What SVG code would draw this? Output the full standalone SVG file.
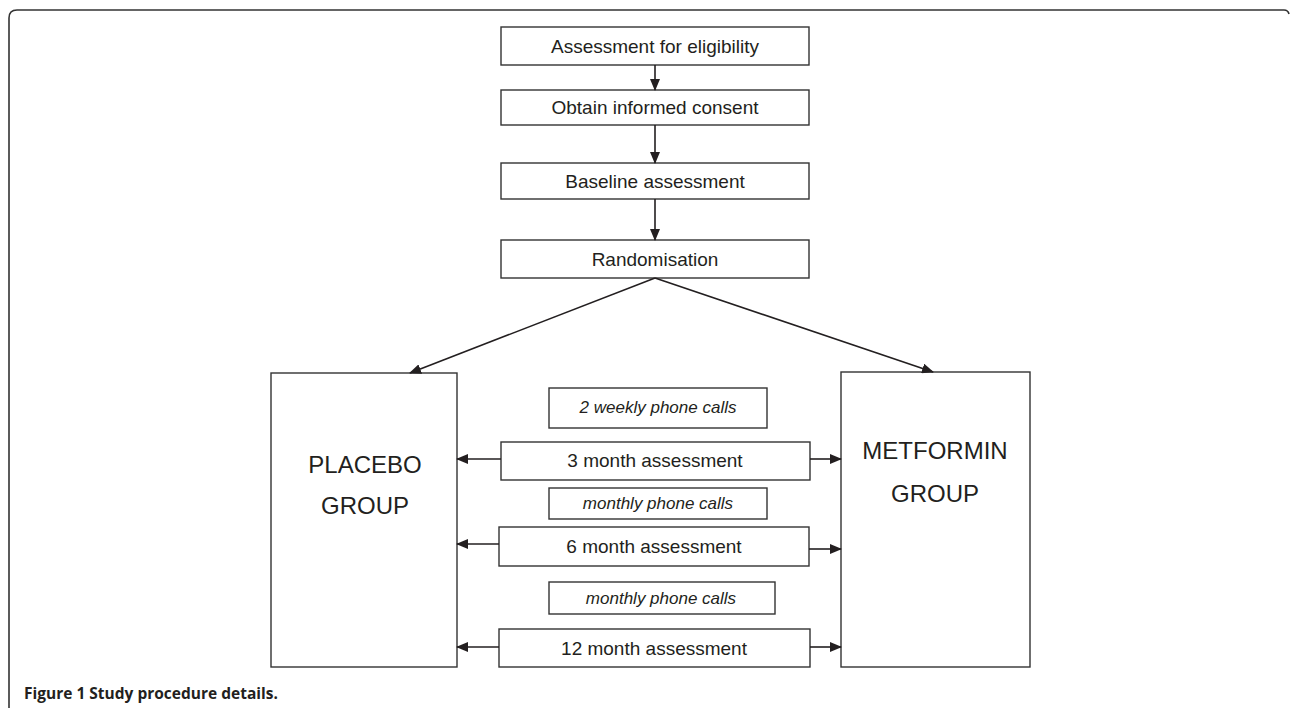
<svg xmlns="http://www.w3.org/2000/svg" width="1290" height="708" viewBox="0 0 1290 708">
<defs>
<style>
.box{fill:#fff;stroke:#333;stroke-width:1.4}
.t{font-family:"Liberation Sans",Arial,sans-serif;font-size:19px;fill:#231f20;text-anchor:middle}
.ti{font-family:"Liberation Sans",Arial,sans-serif;font-size:17px;font-style:italic;fill:#231f20;text-anchor:middle}
.tg{font-family:"Liberation Sans",Arial,sans-serif;font-size:24px;fill:#231f20;text-anchor:middle}
.c{stroke:#231f20;stroke-width:1.6;fill:none}
.cap{font-family:"Open Sans","Liberation Sans",sans-serif;font-size:15.5px;font-weight:bold;fill:#231f20}
</style>
<marker id="ah" markerUnits="userSpaceOnUse" markerWidth="12" markerHeight="10" refX="11" refY="5" orient="auto">
<path d="M0,0 L12,5 L0,10 z" fill="#231f20"/>
</marker>
</defs>
<rect width="1290" height="708" fill="#fff"/>
<path d="M9,708 V18 Q9,10 17,10 H1284 Q1288,10 1289,14" fill="none" stroke="#333" stroke-width="1.6"/>

<g id="eligibility"><rect class="box" x="501" y="27" width="308" height="38"/><text class="t" x="655" y="53">Assessment for eligibility</text></g>
<g id="consent"><rect class="box" x="501" y="90" width="308" height="35"/><text class="t" x="655" y="114">Obtain informed consent</text></g>
<g id="baseline"><rect class="box" x="501" y="163" width="308" height="36"/><text class="t" x="655" y="188">Baseline assessment</text></g>
<g id="randomisation"><rect class="box" x="501" y="240" width="308" height="38"/><text class="t" x="655" y="266">Randomisation</text></g>

<g id="placebo"><rect class="box" x="271" y="373" width="186" height="294"/><text class="tg" x="365" y="473">PLACEBO</text><text class="tg" x="365" y="514">GROUP</text></g>
<g id="metformin"><rect class="box" x="841" y="372" width="189" height="295"/><text class="tg" x="935" y="459">METFORMIN</text><text class="tg" x="935" y="502">GROUP</text></g>

<g id="calls2w"><rect class="box" x="549" y="388" width="218" height="40"/><text class="ti" x="658" y="413">2 weekly phone calls</text></g>
<g id="m3"><rect class="box" x="501" y="442" width="309" height="38"/><text class="t" x="655" y="467">3 month assessment</text></g>
<g id="callsm1"><rect class="box" x="549" y="488" width="218" height="31"/><text class="ti" x="658" y="509">monthly phone calls</text></g>
<g id="m6"><rect class="box" x="499" y="527" width="310" height="39"/><text class="t" x="654" y="553">6 month assessment</text></g>
<g id="callsm2"><rect class="box" x="549" y="582" width="226" height="32"/><text class="ti" x="661" y="604">monthly phone calls</text></g>
<g id="m12"><rect class="box" x="499" y="629" width="311" height="38"/><text class="t" x="654" y="655">12 month assessment</text></g>

<g id="connectors">
<line class="c" x1="655" y1="65" x2="655" y2="90" marker-end="url(#ah)"/>
<line class="c" x1="655" y1="125" x2="655" y2="163" marker-end="url(#ah)"/>
<line class="c" x1="655" y1="199" x2="655" y2="240" marker-end="url(#ah)"/>
<line class="c" x1="655" y1="278" x2="410" y2="373" marker-end="url(#ah)"/>
<line class="c" x1="655" y1="278" x2="933" y2="372" marker-end="url(#ah)"/>
<line class="c" x1="501" y1="459" x2="457" y2="459" marker-end="url(#ah)"/>
<line class="c" x1="810" y1="459" x2="841" y2="459" marker-end="url(#ah)"/>
<line class="c" x1="499" y1="544" x2="457" y2="544" marker-end="url(#ah)"/>
<line class="c" x1="809" y1="549" x2="841" y2="549" marker-end="url(#ah)"/>
<line class="c" x1="499" y1="647" x2="457" y2="647" marker-end="url(#ah)"/>
<line class="c" x1="810" y1="647" x2="841" y2="647" marker-end="url(#ah)"/>
</g>

<text class="cap" x="24" y="699">Figure 1 Study procedure details.</text>
</svg>
